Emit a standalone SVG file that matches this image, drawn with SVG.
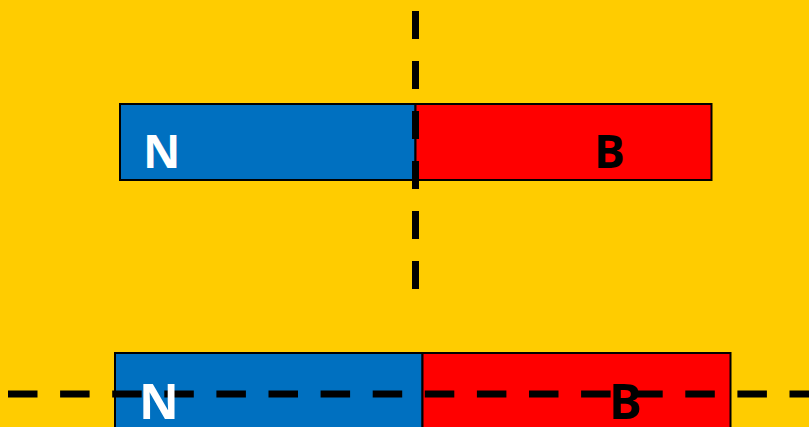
<svg xmlns="http://www.w3.org/2000/svg" width="809" height="427" viewBox="0 0 809 427">
<style>
.bg{fill:#FFCC00}
.n{fill:#0070C0;stroke:#000;stroke-width:2}
.s{fill:#FF0000;stroke:#000;stroke-width:2}
.dash{stroke:#000;stroke-width:7;fill:none}
.lbl{font-family:"Open Sans","DejaVu Sans",sans-serif;font-weight:bold}
.w{fill:#fff}
.k{fill:#000}
</style>
<rect class="bg" x="0" y="0" width="809" height="427"/>
<g id="top-magnet">
<rect id="top-north" class="n" x="120" y="104" width="295.5" height="76"/>
<rect id="top-south" class="s" x="415.5" y="104" width="296" height="76"/>
</g>
<g id="bottom-magnet">
<rect id="bottom-north" class="n" x="115" y="353" width="307.5" height="90"/>
<rect id="bottom-south" class="s" x="422.5" y="353" width="308" height="90"/>
</g>
<g id="connectors">
<line class="dash" x1="415.5" y1="11" x2="415.5" y2="289" stroke-dasharray="28 22"/>
<line class="dash" x1="8" y1="394" x2="809" y2="394" stroke-dasharray="29.5 22.6"/>
</g>
<g id="labels">
<text class="lbl w" x="143" y="168" font-size="46">N</text>
<text class="lbl k" x="594" y="168" font-size="46">B</text>
<text class="lbl w" x="139" y="419" font-size="49">N</text>
<text class="lbl k" x="609" y="419" font-size="49">B</text>
</g>
</svg>
